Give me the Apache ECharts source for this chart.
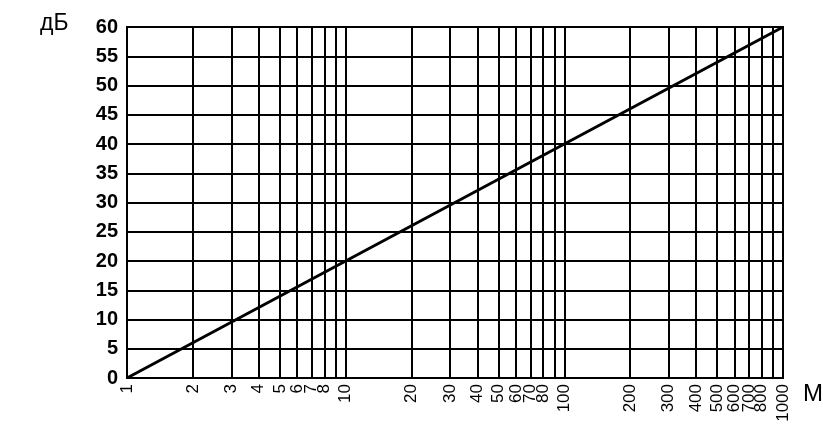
<!DOCTYPE html>
<html><head><meta charset="utf-8">
<script src="https://cdn.jsdelivr.net/npm/echarts@6/dist/echarts.min.js"></script>
<style>html,body{margin:0;padding:0;background:#fff}#c{width:823px;height:428px}</style>
</head><body><div id="c"></div>
<script>
const distance = [1, 10, 100, 1000];
const attenuation = [0, 20, 40, 60];
const xTicks = [1,2,3,4,5,6,7,8,9,10,20,30,40,50,60,70,80,90,100,200,300,400,500,600,700,800,900,1000];
const xLabels = [1,2,3,4,5,6,7,8,10,20,30,40,50,60,70,80,100,200,300,400,500,600,700,800,1000];
const yUnit = 'дБ';
const xUnit = 'М';

const chart = echarts.init(document.getElementById('c'), null, {renderer:'canvas'});
chart.setOption({
  animation:false,
  backgroundColor:'#fff',
  grid:{left:127,right:40,top:27,bottom:50,show:true,borderColor:'#000',borderWidth:2},
  xAxis:{type:'log',logBase:10,min:1,max:1000,
    axisLine:{show:false},axisTick:{show:false},splitLine:{show:false},
    axisLabel:{customValues:xLabels,rotate:90,margin:6,color:'#000',fontSize:17,fontFamily:'Liberation Sans',
      formatter:v=>String(Math.round(v))}},
  yAxis:{type:'value',min:0,max:60,interval:5,
    axisLine:{show:false},axisTick:{show:false},
    splitLine:{lineStyle:{color:'#000',width:2}},
    axisLabel:{color:'#000',fontSize:20,fontWeight:'bold',fontFamily:'Liberation Sans',margin:9}},
  graphic:[
    {type:'text',left:40,top:12,style:{text:yUnit,fontSize:23,fill:'#000',fontFamily:'Liberation Sans'}},
    {type:'text',left:803,top:382,style:{text:xUnit,fontSize:24,fill:'#000',fontFamily:'Liberation Sans'}}
  ],
  series:[{type:'line',data:distance.map((d,i)=>[d,attenuation[i]]),symbol:'none',
    lineStyle:{color:'#000',width:3},
    markLine:{silent:true,symbol:'none',label:{show:false},
      lineStyle:{color:'#000',width:2,type:'solid'},
      data:xTicks.map(v=>({xAxis:v}))}}]
});
</script></body></html>
